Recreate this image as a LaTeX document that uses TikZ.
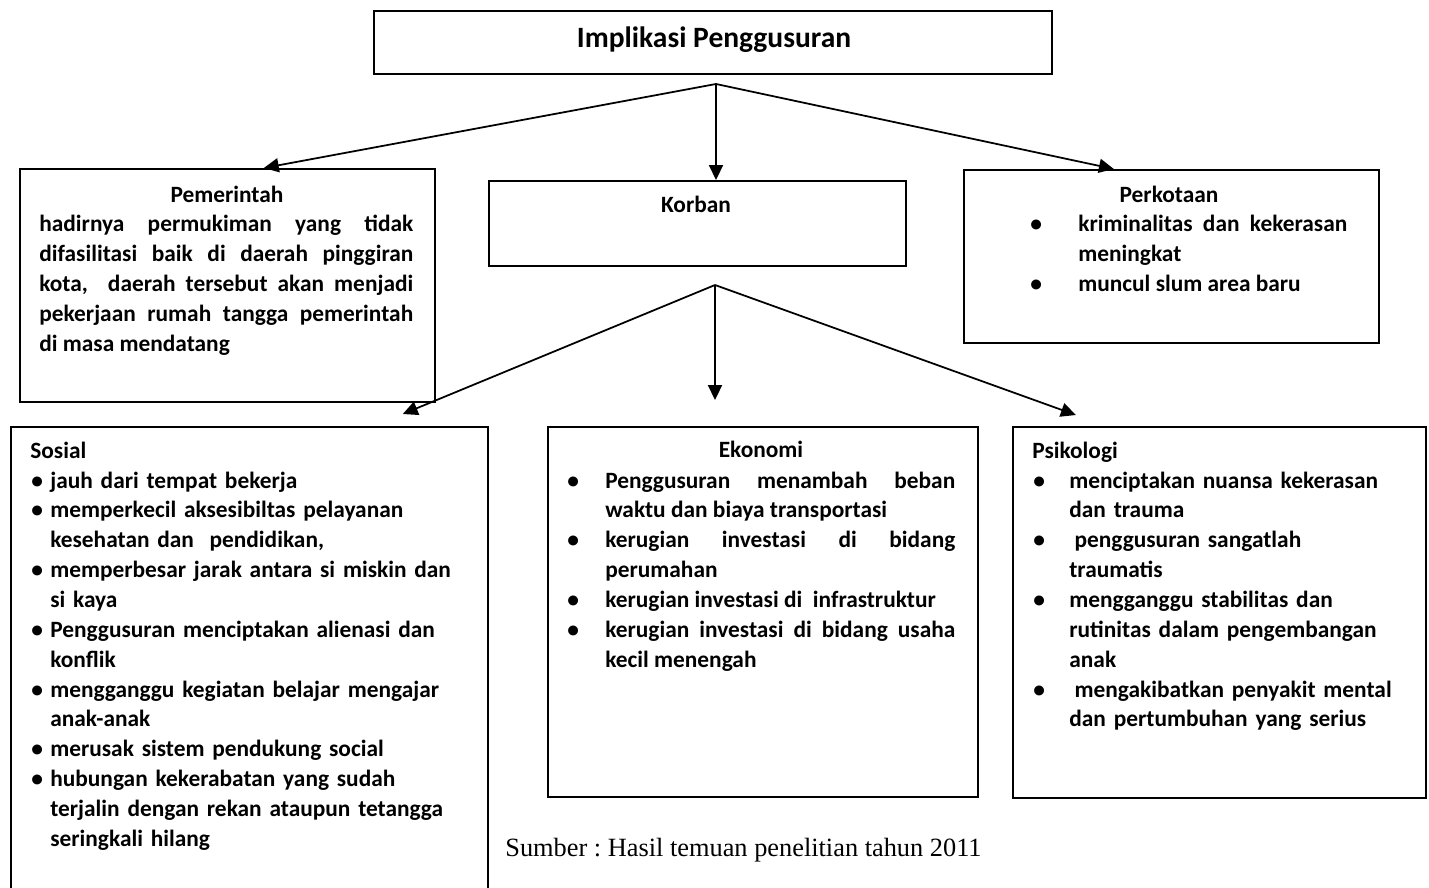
\documentclass[tikz,border=0pt]{standalone}
\usepackage{fontspec}
\setmainfont{Carlito}
\newfontfamily\sumberfont{Liberation Serif}
\usepackage{tikz}
\usetikzlibrary{arrows.meta}
\frenchspacing
\tikzstyle{kotak} = [rectangle, draw = black, line width = 1pt, anchor = north west, inner sep = 0pt]
\tikzstyle{judul} = [font = \fontsize{13.3}{17}\selectfont\bfseries, inner sep = 0pt, anchor = base]
\tikzstyle{isi} = [font = \fontsize{13.3}{17}\selectfont\bfseries, inner sep = 0pt, anchor = base west]
\tikzstyle{arrow} = [line width = 1pt, ->, >={Triangle[length = 8.5pt, width = 8pt]}]
\newcommand{\poin}[2]{\hangindent=#1\hangafter=1\noindent\makebox[#1][l]{\textbullet}#2\par}

\begin{document}
\begin{tikzpicture}[x = 0.02cm, y = -0.02cm]

    \useasboundingbox (0,0) rectangle (1429,888);

    % kotak
    \node (implikasi) [kotak, minimum width = 13.56cm, minimum height = 1.26cm] at (373,10) {};
    \node (pemerintah) [kotak, minimum width = 8.30cm, minimum height = 4.66cm] at (19,168) {};
    \node (korban) [kotak, minimum width = 8.34cm, minimum height = 1.70cm] at (488,180) {};
    \node (perkotaan) [kotak, minimum width = 8.30cm, minimum height = 3.46cm] at (963,169) {};
    \node (sosial) [kotak, minimum width = 9.54cm, minimum height = 9.40cm] at (10,426) {};
    \node (ekonomi) [kotak, minimum width = 8.60cm, minimum height = 7.40cm] at (547,426) {};
    \node (psikologi) [kotak, minimum width = 8.26cm, minimum height = 7.42cm] at (1012,426) {};

    % judul
    \node (tImplikasi) [judul, font = \fontsize{16.8}{20}\selectfont\bfseries] at (714,48) {Implikasi Penggusuran};
    \node (tPemerintah) [judul] at (227,203) {Pemerintah};
    \node (tKorban) [judul] at (696,213) {Korban};
    \node (tPerkotaan) [judul] at (1169,203) {Perkotaan};
    \node (tSosial) [judul, anchor = base west] at (30,458) {Sosial};
    \node (tEkonomi) [judul] at (761,457) {Ekonomi};
    \node (tPsikologi) [judul, anchor = base west] at (1032,458) {Psikologi};

    % isi
    \node (iPemerintah) [isi, text width = 7.48cm, align = justify] at (39,232) {hadirnya permukiman yang tidak\linebreak difasilitasi baik di daerah pinggiran\linebreak kota,\ \ daerah tersebut akan menjadi\linebreak pekerjaan rumah tangga pemerintah\linebreak di masa mendatang};
    \node (iPerkotaan) [isi, text width = 6.34cm, align = justify] at (1030,232) {\poin{27.3pt}{kriminalitas dan kekerasan\linebreak meningkat}\poin{27.3pt}{muncul slum area baru}};
    \node (iSosial) [isi, text width = 8.9cm, align = left] at (31,488) {\poin{10.8pt}{jauh dari tempat bekerja}\poin{10.8pt}{memperkecil aksesibiltas pelayanan\newline kesehatan dan\ \ pendidikan,}\poin{10.8pt}{memperbesar jarak antara si miskin dan\newline si kaya}\poin{10.8pt}{Penggusuran menciptakan alienasi dan\newline konflik}\poin{10.8pt}{mengganggu kegiatan belajar mengajar\newline anak-anak}\poin{10.8pt}{merusak sistem pendukung social}\poin{10.8pt}{hubungan kekerabatan yang sudah\newline terjalin dengan rekan ataupun tetangga\newline seringkali hilang}};
    \node (iEkonomi) [isi, text width = 7.76cm, align = justify] at (567,488) {\poin{21.6pt}{Penggusuran menambah beban\linebreak waktu dan biaya transportasi}\poin{21.6pt}{kerugian investasi di bidang\linebreak perumahan}\poin{21.6pt}{kerugian investasi di\ \ infrastruktur}\poin{21.6pt}{kerugian investasi di bidang usaha\linebreak kecil menengah}};
    \node (iPsikologi) [isi, text width = 7.7cm, align = left] at (1033,488) {\poin{20.5pt}{menciptakan nuansa kekerasan\newline dan trauma}\poin{20.5pt}{\hspace*{3pt}penggusuran sangatlah\newline traumatis}\poin{20.5pt}{mengganggu stabilitas dan\newline rutinitas dalam pengembangan\newline anak}\poin{20.5pt}{\hspace*{3pt}mengakibatkan penyakit mental\newline dan pertumbuhan yang serius}};

    \node (sumber) [inner sep = 0pt, anchor = base west, font = \sumberfont\fontsize{15}{18}\selectfont] at (505,856) {Sumber : Hasil temuan penelitian tahun 2011};

    % panah
    \coordinate (cabang1) at (716,84);
    \coordinate (cabang2) at (715,285);

    \draw[arrow] (cabang1) -- ([xshift = 0.73cm]pemerintah.north);
    \draw[arrow] (cabang1) -- (cabang1 |- korban.north);
    \draw[arrow] (cabang1) -- ([xshift = -1.15cm]perkotaan.north);
    \draw[arrow] (cabang2) -- ([xshift = 3.07cm, yshift = 0.24cm]sosial.north);
    \draw[arrow, shorten > = 0.52cm] (cabang2) -- (cabang2 |- ekonomi.north);
    \draw[arrow] (cabang2) -- ([xshift = -2.87cm, yshift = 0.22cm]psikologi.north);

\end{tikzpicture}
\end{document}
